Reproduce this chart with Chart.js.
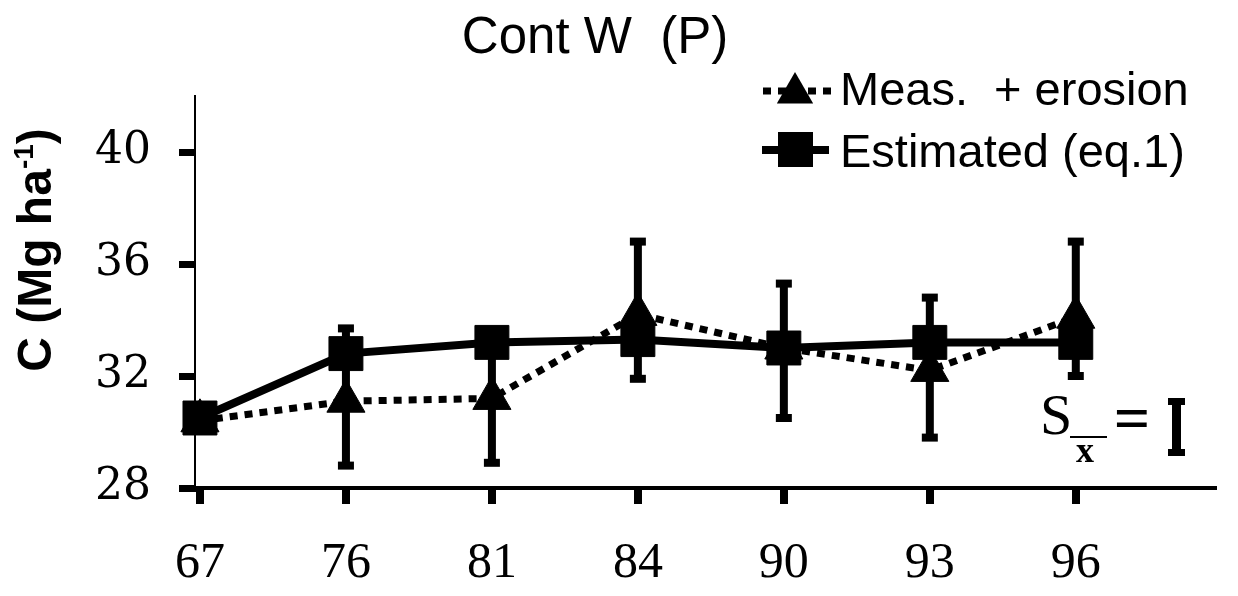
<!DOCTYPE html>
<html>
<head>
<meta charset="utf-8">
<script src="https://cdn.jsdelivr.net/npm/chart.js@4/dist/chart.umd.min.js"></script>
<style>
  html, body { margin: 0; padding: 0; background: #fff; }
  #wrap { width: 1238px; height: 596px; }
</style>
</head>
<body>
<div id="wrap"><canvas id="chart" width="1238" height="596"></canvas></div>
<script>
// values
const years = ['67', '76', '81', '84', '90', '93', '96'];
const measured = [30.4, 31.1, 31.2, 34.2, 33.0, 32.2, 34.1];
const estimated = [30.5, 32.8, 33.2, 33.3, 33.0, 33.2, 33.2];
const errLow = [null, 28.8, 28.9, 31.9, 30.5, 29.8, 32.0];
const errHigh = [null, 33.7, 33.6, 36.8, 35.3, 34.8, 36.8];
const yTicks = [28, 32, 36, 40];

const titleText = 'Cont W  (P)';
const measLabel = 'Meas.  + erosion';
const estLabel = 'Estimated (eq.1)';

// error bars (stem + caps) drawn under the markers
const errorBars = {
    id: 'errorBars',
    beforeDatasetsDraw(chart) {
        const { ctx, scales: { x, y } } = chart;
        ctx.save();
        ctx.fillStyle = '#000';
        years.forEach((_, i) => {
            if (errLow[i] == null) return;
            const px = x.getPixelForValue(i);
            const top = y.getPixelForValue(errHigh[i]);
            const bot = y.getPixelForValue(errLow[i]);
            ctx.fillRect(px - 4, top, 8, bot - top);
            ctx.fillRect(px - 8, top - 4, 16, 8);
            ctx.fillRect(px - 8, bot - 4, 16, 8);
        });
        ctx.restore();
    }
};

function triangle(ctx, cx, cy, r) {
    ctx.beginPath();
    for (let k = 0; k < 3; k++) {
        const a = k * 2 * Math.PI / 3;
        const px = cx + Math.sin(a) * r;
        const py = cy - Math.cos(a) * r;
        if (k === 0) ctx.moveTo(px, py); else ctx.lineTo(px, py);
    }
    ctx.closePath();
    ctx.fill();
}

// title, axis label, legend and the S = I note
const decorations = {
    id: 'decorations',
    afterDraw(chart) {
        const ctx = chart.ctx;
        const ds = chart.data.datasets;
        ctx.save();
        ctx.fillStyle = '#000';
        ctx.strokeStyle = '#000';

        // title
        ctx.font = '51px "Liberation Sans", Arial, sans-serif';
        ctx.textAlign = 'center';
        ctx.textBaseline = 'alphabetic';
        ctx.fillText(titleText, 595, 53);

        // y axis label with superscript
        ctx.save();
        ctx.translate(38, 250);
        ctx.rotate(-Math.PI / 2);
        ctx.textAlign = 'left';
        ctx.textBaseline = 'middle';
        const mainFont = 'bold 48px "Liberation Sans", Arial, sans-serif';
        const supFont = 'bold 28px "Liberation Sans", Arial, sans-serif';
        ctx.font = mainFont;
        const w1 = ctx.measureText('C (Mg ha').width;
        const w3 = ctx.measureText(')').width;
        ctx.font = supFont;
        const w2 = ctx.measureText('-1').width;
        let sx = -(w1 + w2 + w3) / 2;
        ctx.font = mainFont;
        ctx.fillText('C (Mg ha', sx, 0);
        sx += w1;
        ctx.font = supFont;
        ctx.fillText('-1', sx, -13);
        sx += w2;
        ctx.font = mainFont;
        ctx.fillText(')', sx, 0);
        ctx.restore();

        // legend
        ctx.textAlign = 'left';
        ctx.textBaseline = 'alphabetic';
        ctx.font = '47px "Liberation Sans", Arial, sans-serif';
        // row 1: measured
        ctx.save();
        ctx.lineWidth = ds[1].borderWidth;
        ctx.setLineDash(ds[1].borderDash);
        ctx.beginPath();
        ctx.moveTo(763, 91);
        ctx.lineTo(832, 91);
        ctx.stroke();
        ctx.restore();
        triangle(ctx, 795, 93, 21);
        ctx.fillText(measLabel, 840, 105);
        // row 2: estimated
        ctx.lineWidth = ds[0].borderWidth;
        ctx.beginPath();
        ctx.moveTo(762, 150);
        ctx.lineTo(829, 150);
        ctx.stroke();
        ctx.fillRect(778, 132, 35, 35);
        ctx.fillText(estLabel, 840, 167);

        // S (x bar) = I
        ctx.font = '58px "Liberation Serif", "Times New Roman", serif';
        ctx.fillText('S', 1040, 434);
        ctx.font = 'bold 36px "Liberation Serif", "Times New Roman", serif';
        ctx.fillText('x', 1076, 462);
        ctx.lineWidth = 2;
        ctx.beginPath();
        ctx.moveTo(1070, 437);
        ctx.lineTo(1107, 437);
        ctx.stroke();
        ctx.font = 'bold 64px "Liberation Serif", "Times New Roman", serif';
        ctx.textAlign = 'center';
        ctx.fillText('=', 1132, 440);
        ctx.fillRect(1172, 399, 9, 56);
        ctx.fillRect(1168, 398, 17, 7);
        ctx.fillRect(1168, 449, 17, 7);
        ctx.restore();
    }
};

const ctx = document.getElementById('chart').getContext('2d');
new Chart(ctx, {
    type: 'line',
    data: {
        datasets: [
            {
                label: estLabel,
                data: years.map((_, i) => ({ x: i, y: estimated[i] })),
                borderColor: '#000',
                backgroundColor: '#000',
                borderWidth: 8,
                pointStyle: 'rect',
                pointRadius: 24,
                pointBorderWidth: 1,
                tension: 0,
                clip: false,
                order: 0
            },
            {
                label: measLabel,
                data: years.map((_, i) => ({ x: i, y: measured[i] })),
                borderColor: '#000',
                backgroundColor: '#000',
                borderWidth: 7,
                borderDash: [8, 7],
                pointStyle: 'triangle',
                pointRadius: 22,
                pointBorderWidth: 1,
                tension: 0,
                clip: false,
                order: 1
            }
        ]
    },
    options: {
        responsive: false,
        animation: false,
        layout: { padding: { top: 96, right: 8, left: 0, bottom: 0 } },
        plugins: {
            legend: { display: false },
            title: { display: false },
            tooltip: { enabled: false }
        },
        scales: {
            x: {
                type: 'linear',
                min: -0.034,
                max: 6.94,
                afterBuildTicks: scale => { scale.ticks = years.map((_, i) => ({ value: i })); },
                afterFit: scale => { scale.height = 108; },
                ticks: {
                    callback: value => years[value],
                    font: { family: 'Liberation Serif', size: 50 },
                    color: '#000',
                    padding: 30,
                    autoSkip: false,
                    maxRotation: 0
                },
                grid: { drawOnChartArea: false, tickLength: 16, lineWidth: 8, color: '#000' },
                border: { width: 4, color: '#000' }
            },
            y: {
                min: 28,
                max: 42,
                afterBuildTicks: scale => { scale.ticks = yTicks.map(v => ({ value: v })); },
                afterFit: scale => { scale.width = 195; },
                ticks: {
                    font: { family: 'DejaVu Serif', size: 44 },
                    color: '#000',
                    padding: 28
                },
                grid: { drawOnChartArea: false, tickLength: 16, lineWidth: 7, color: '#000' },
                border: { width: 2, color: '#000' }
            }
        }
    },
    plugins: [errorBars, decorations]
});
</script>
</body>
</html>
